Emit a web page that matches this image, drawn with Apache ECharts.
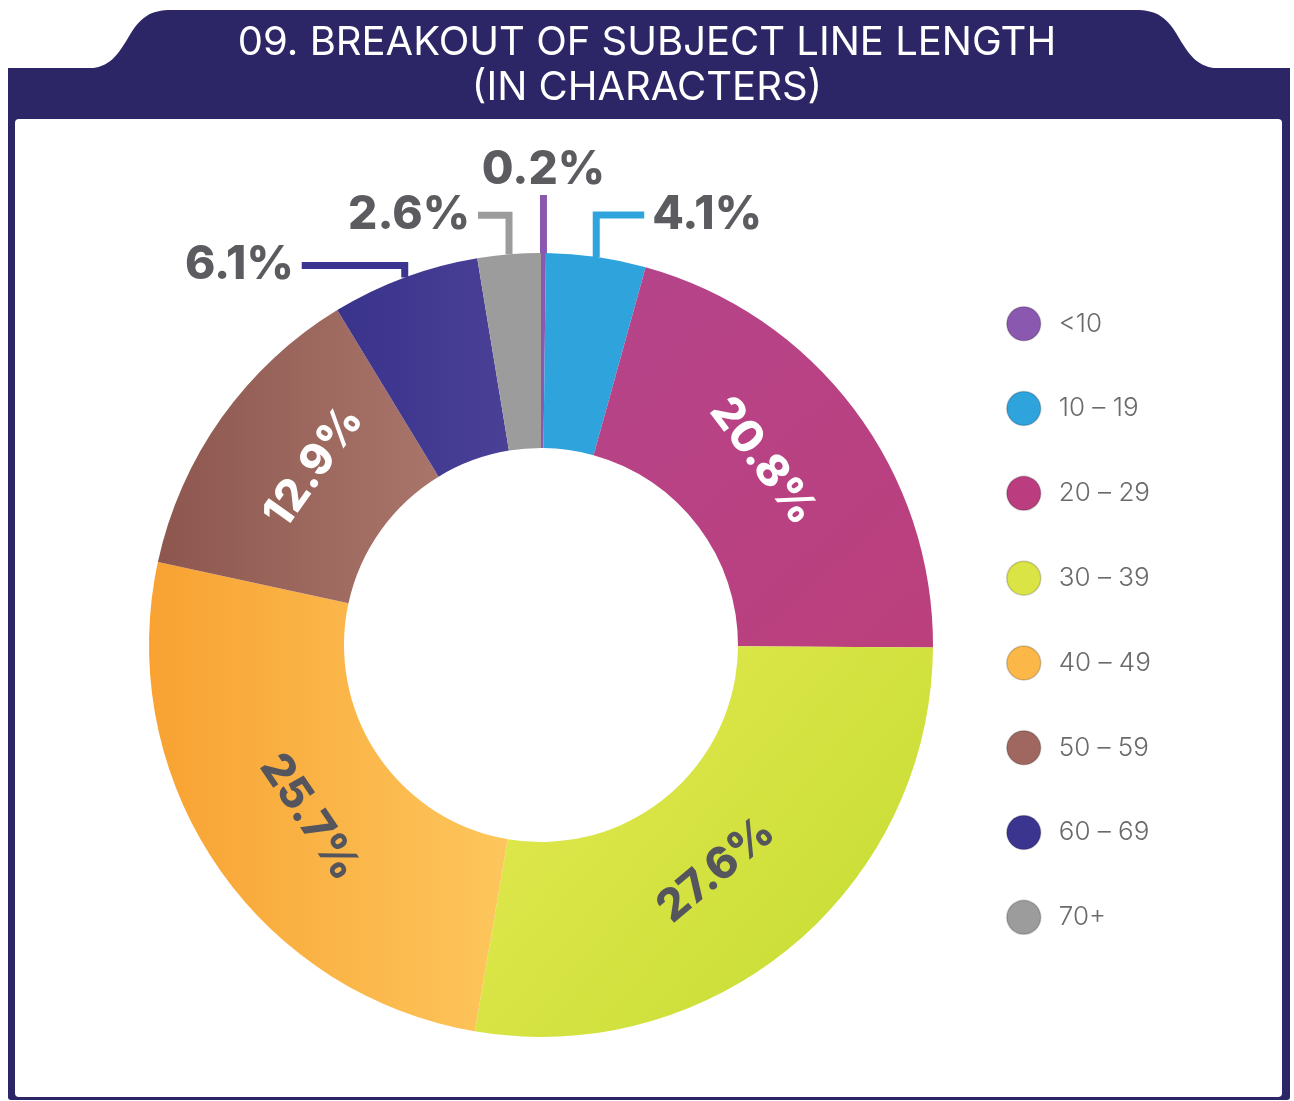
<!DOCTYPE html>
<html>
<head>
<meta charset="utf-8">
<title>09. Breakout of Subject Line Length</title>
<script src="https://cdn.jsdelivr.net/npm/echarts@6/dist/echarts.min.js"></script>
<style>
  html, body { margin: 0; padding: 0; background: #ffffff; }
  #chart { width: 1294px; height: 1101px; }
</style>
</head>
<body>
<div id="chart"></div>
<script>
// Subject line length buckets (characters) and their share of emails (%)
const categories = ['<10', '10 – 19', '20 – 29', '30 – 39', '40 – 49', '50 – 59', '60 – 69', '70+'];
const shares = [0.2, 4.1, 20.8, 27.6, 25.7, 12.9, 6.1, 2.6];
const titleLines = ['09. BREAKOUT OF SUBJECT LINE LENGTH', '(IN CHARACTERS)'];

const NAVY = '#2c2566';
const LABEL_GREY = '#5c5c60';
const PIE_CENTER = [541, 645];

function grad(x2, y2, c0, c1) {
  return { type: 'linear', x: 0, y: 0, x2: x2, y2: y2,
           colorStops: [{ offset: 0, color: c0 }, { offset: 1, color: c1 }] };
}

// fill, legend swatch colour, inside-label colour (null = callout label)
const sliceStyle = {
  '<10':     { fill: '#8b58b0', swatch: '#8b58b0', text: null },
  '10 – 19': { fill: '#2fa3dc', swatch: '#2fa3dc', text: null },
  '20 – 29': { fill: grad(1, 1, '#b5448a', '#bb3f7c'), swatch: '#bb3d80', text: '#ffffff' },
  '30 – 39': { fill: grad(1, 1, '#e6ea52', '#c3db30'), swatch: '#dbe445', text: '#55555d' },
  '40 – 49': { fill: grad(1, 0, '#f8a232', '#fdc65c'), swatch: '#fbb748', text: '#55555d' },
  '50 – 59': { fill: grad(1, 0, '#8d574f', '#a9756a'), swatch: '#a06760', text: '#ffffff' },
  '60 – 69': { fill: grad(1, 0, '#3a338c', '#4a4096'), swatch: '#3b3590', text: null },
  '70+':     { fill: '#9c9c9c', swatch: '#9c9c9c', text: null }
};

// elbow callouts for the thin slices: rise above the rim, then run sideways
const callouts = {
  '<10':     { rise: 58, run: 0,   side: 0 },
  '10 – 19': { rise: 42, run: 48,  side: 1 },
  '60 – 69': { rise: 12, run: 103, side: -1 },
  '70+':     { rise: 39, run: 31,  side: -1 }
};
// inside labels sit a little closer to the hole than the ring's mid-line
const INSIDE_PULL = 16;

// header tab outline: straight top with S-shaped shoulders, sampled cubic curves
function cubic(p0, p1, p2, p3, n) {
  const pts = [];
  for (let i = 0; i <= n; i++) {
    const t = i / n, u = 1 - t;
    pts.push([
      u*u*u*p0[0] + 3*u*u*t*p1[0] + 3*u*t*t*p2[0] + t*t*t*p3[0],
      u*u*u*p0[1] + 3*u*u*t*p1[1] + 3*u*t*t*p2[1] + t*t*t*p3[1]
    ]);
  }
  return pts;
}
const tabPoints = [].concat(
  cubic([82, 69], [108, 69], [116, 58], [128, 38], 16),
  cubic([128, 38], [140, 17], [150, 10], [172, 10], 16),
  cubic([1135, 10], [1157, 10], [1167, 17], [1179, 38], 16),
  cubic([1179, 38], [1191, 58], [1199, 69], [1225, 69], 16)
);

const pieData = categories.map(function (name, i) {
  const st = sliceStyle[name];
  const item = { name: name, value: shares[i], itemStyle: { color: st.fill } };
  if (st.text) {
    item.label = { position: 'inside', rotate: 'tangential', color: st.text, fontSize: 44 };
    item.labelLine = { show: false };
  } else {
    item.label = { position: 'outside', color: LABEL_GREY, fontSize: 46 };
    item.labelLine = { show: true, lineStyle: { color: st.swatch, width: 7, cap: 'butt', join: 'miter' } };
  }
  return item;
});

const chart = echarts.init(document.getElementById('chart'), null, { renderer: 'canvas' });

chart.setOption({
  backgroundColor: '#ffffff',
  animation: false,
  graphic: [
    // navy frame with the header band
    { type: 'rect', z: 0, shape: { x: 8, y: 68, width: 1282, height: 1032, r: [0, 0, 3, 3] }, style: { fill: NAVY } },
    // header tab
    { type: 'polygon', z: 0, shape: { points: tabPoints }, style: { fill: NAVY } },
    // white panel
    { type: 'rect', z: 1, shape: { x: 15, y: 119, width: 1267, height: 978, r: 4 }, style: { fill: '#ffffff' } },
    { type: 'text', z: 2, x: 647, y: 43, style: {
        text: titleLines[0], fill: '#ffffff', font: '400 40px Inter', align: 'center', verticalAlign: 'middle' } },
    { type: 'text', z: 2, x: 647, y: 88, style: {
        text: titleLines[1], fill: '#ffffff', font: '400 40px Inter', align: 'center', verticalAlign: 'middle' } }
  ],
  legend: {
    orient: 'vertical',
    left: 1001,
    top: 301,
    icon: 'circle',
    itemWidth: 34,
    itemHeight: 34,
    itemGap: 49.3,
    data: categories.map(function (name) {
      return { name: name, itemStyle: { color: sliceStyle[name].swatch, borderColor: 'rgba(0,0,0,0.18)', borderWidth: 1.5 } };
    }),
    textStyle: { fontFamily: 'Inter', fontWeight: 300, fontSize: 26, color: '#6a6a6a', padding: [0, 0, 0, 13] }
  },
  series: [{
    type: 'pie',
    center: PIE_CENTER,
    radius: [197, 392],
    startAngle: 90,
    clockwise: true,
    avoidLabelOverlap: false,
    z: 3,
    label: {
      show: true,
      fontFamily: 'Inter',
      fontWeight: 800,
      formatter: function (p) { return p.value.toFixed(1) + '%'; }
    },
    labelLayout: function (p) {
      const cfg = callouts[categories[p.dataIndex]];
      if (!cfg) {
        // pull inside labels toward the centre along their radius
        const r = p.labelRect;
        const cx = r.x + r.width / 2 - PIE_CENTER[0];
        const cy = r.y + r.height / 2 - PIE_CENTER[1];
        const d = Math.sqrt(cx * cx + cy * cy) || 1;
        return { dx: -cx / d * INSIDE_PULL, dy: -cy / d * INSIDE_PULL };
      }
      if (!p.labelLinePoints) return {};
      const s = p.labelLinePoints[0];
      const yElbow = s[1] - cfg.rise;
      if (cfg.side === 0) {
        return {
          x: s[0], y: yElbow - 2, align: 'center', verticalAlign: 'bottom',
          labelLinePoints: [[s[0], s[1]], [s[0], yElbow], [s[0], yElbow]]
        };
      }
      const xEnd = s[0] + cfg.side * cfg.run;
      return {
        x: xEnd + cfg.side * 8, y: yElbow, align: cfg.side > 0 ? 'left' : 'right', verticalAlign: 'middle',
        labelLinePoints: [[s[0], s[1]], [s[0], yElbow], [xEnd, yElbow]]
      };
    },
    emphasis: { disabled: true },
    data: pieData
  }]
});
</script>
</body>
</html>
